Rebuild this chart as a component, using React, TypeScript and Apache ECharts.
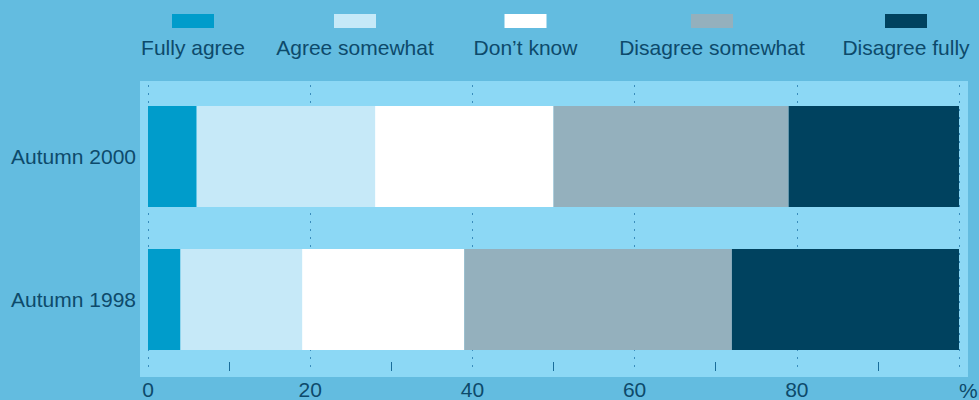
import React, { useEffect, useRef } from "react";
import * as echarts from "echarts";

// Survey answers, share of respondents in percent
const categories = ["Autumn 2000", "Autumn 1998"];
const seriesNames = [
  "Fully agree",
  "Agree somewhat",
  "Don\u2019t know",
  "Disagree somewhat",
  "Disagree fully",
];
const fullyAgree = [6, 4];
const agreeSomewhat = [22, 15];
const dontKnow = [22, 20];
const disagreeSomewhat = [29, 33];
const disagreeFully = [21, 28];
const axisUnit = "%";

const seriesValues = [fullyAgree, agreeSomewhat, dontKnow, disagreeSomewhat, disagreeFully];
const colors = ["#009ccb", "#c6e9f8", "#ffffff", "#94b0bd", "#00425f"];

// legend item centres (icon above its label)
const legendCenters = [193, 355, 525.5, 712, 906];

const TEXT = "#0d4a6b";
const FONT = "'Liberation Sans', Arial, Helvetica, sans-serif";

export default function App() {
  const ref = useRef<HTMLDivElement>(null);

  useEffect(() => {
    if (!ref.current) return;
    const chart = echarts.init(ref.current, undefined, { renderer: "svg" });

    const legendGraphics = seriesNames.map((name, i) => ({
      type: "group",
      children: [
        {
          type: "rect",
          shape: { x: legendCenters[i] - 21, y: 14, width: 42, height: 14 },
          style: { fill: colors[i] },
        },
        {
          type: "text",
          x: legendCenters[i],
          y: 47,
          style: {
            text: name,
            fill: TEXT,
            font: `21px ${FONT}`,
            align: "center",
            verticalAlign: "middle",
          },
        },
      ],
    }));

    chart.setOption({
      animation: false,
      backgroundColor: "#63bce0",
      textStyle: { fontFamily: FONT },
      graphic: [
        {
          type: "rect",
          z: -100,
          shape: { x: 140, y: 81, width: 828, height: 296 },
          style: { fill: "#8cd8f5" },
        },
        ...legendGraphics,
        {
          type: "text",
          x: 959,
          y: 390,
          style: {
            text: axisUnit,
            fill: TEXT,
            font: `21px ${FONT}`,
            align: "left",
            verticalAlign: "middle",
          },
        },
      ],
      grid: { left: 148, right: 20, top: 85, bottom: 28, containLabel: false },
      xAxis: {
        type: "value",
        min: 0,
        max: 100,
        interval: 20,
        axisLine: { show: false },
        axisTick: { show: false, inside: true },
        minorTick: {
          show: true,
          splitNumber: 2,
          length: 9,
          lineStyle: { color: "#1a6d9a", width: 1 },
        },
        splitLine: {
          show: true,
          lineStyle: { color: "#3a8dbc", width: 1, type: [2, 6] },
        },
        axisLabel: {
          color: TEXT,
          fontSize: 21,
          fontFamily: FONT,
          margin: 8,
          formatter: (v: number) => (v === 100 ? "" : String(v)),
        },
      },
      yAxis: {
        type: "category",
        data: categories,
        inverse: true,
        axisLine: { show: false },
        axisTick: { show: false },
        splitLine: { show: false },
        axisLabel: { color: TEXT, fontSize: 21, fontFamily: FONT, margin: 12 },
      },
      series: seriesNames.map((name, i) => ({
        name,
        type: "bar",
        stack: "total",
        barWidth: 101,
        silent: true,
        itemStyle: { color: colors[i] },
        data: seriesValues[i],
      })),
    });

    return () => chart.dispose();
  }, []);

  return (
    <div
      ref={ref}
      style={{ position: "fixed", left: 0, top: 0, width: 979, height: 400 }}
    />
  );
}
